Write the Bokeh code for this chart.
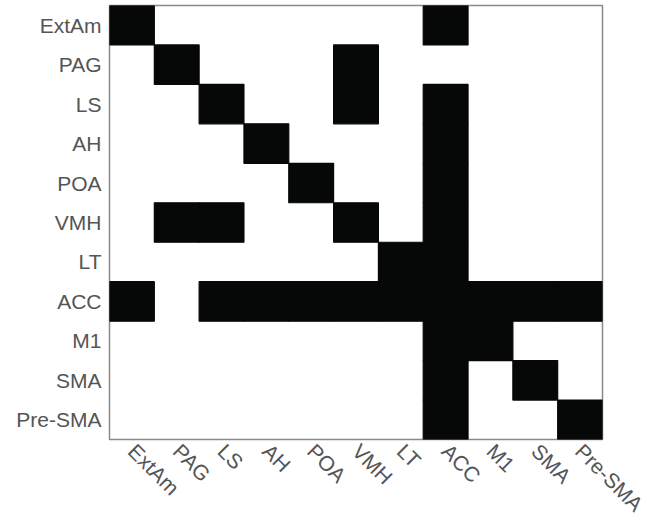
import math
from bokeh.plotting import figure
from bokeh.models import ColumnDataSource
from bokeh.embed import file_html
from bokeh.resources import INLINE

regions = ["ExtAm", "PAG", "LS", "AH", "POA", "VMH", "LT", "ACC", "M1", "SMA", "Pre-SMA"]

# adjacency rows (row region -> columns in order of `regions`)
row_ExtAm   = [1, 0, 0, 0, 0, 0, 0, 1, 0, 0, 0]
row_PAG     = [0, 1, 0, 0, 0, 1, 0, 0, 0, 0, 0]
row_LS      = [0, 0, 1, 0, 0, 1, 0, 1, 0, 0, 0]
row_AH      = [0, 0, 0, 1, 0, 0, 0, 1, 0, 0, 0]
row_POA     = [0, 0, 0, 0, 1, 0, 0, 1, 0, 0, 0]
row_VMH     = [0, 1, 1, 0, 0, 1, 0, 1, 0, 0, 0]
row_LT      = [0, 0, 0, 0, 0, 0, 1, 1, 0, 0, 0]
row_ACC     = [1, 0, 1, 1, 1, 1, 1, 1, 1, 1, 1]
row_M1      = [0, 0, 0, 0, 0, 0, 0, 1, 1, 0, 0]
row_SMA     = [0, 0, 0, 0, 0, 0, 0, 1, 0, 1, 0]
row_PreSMA  = [0, 0, 0, 0, 0, 0, 0, 1, 0, 0, 1]

matrix = [row_ExtAm, row_PAG, row_LS, row_AH, row_POA, row_VMH,
          row_LT, row_ACC, row_M1, row_SMA, row_PreSMA]

xs, ys = [], []
for r, row in zip(regions, matrix):
    for c, v in zip(regions, row):
        if v:
            xs.append(c)
            ys.append(r)

src = ColumnDataSource(dict(x=xs, y=ys))

p = figure(width=647, height=526, x_range=regions, y_range=list(reversed(regions)),
           output_backend="svg", toolbar_location=None,
           min_border_left=109, min_border_right=45, min_border_top=5, min_border_bottom=84)

p.rect(x="x", y="y", width=1, height=1, source=src,
       fill_color="#060808", line_color="#060808", line_width=1.2)

p.xgrid.visible = False
p.ygrid.visible = False
p.outline_line_color = "#8a8a8a"
p.outline_line_width = 1.5
p.background_fill_color = "white"
p.border_fill_color = "white"

for ax in (p.xaxis, p.yaxis):
    ax.axis_line_color = None
    ax.major_tick_line_color = None
    ax.minor_tick_line_color = None
    ax.major_label_text_font = "Liberation Sans"
    ax.major_label_text_font_size = "21px"
    ax.major_label_text_color = "#555555"

p.yaxis.major_label_standoff = 2
p.xaxis.major_label_standoff = 2
p.xaxis.major_label_orientation = -math.pi / 4

open("out.html", "w").write(file_html(p, INLINE))
